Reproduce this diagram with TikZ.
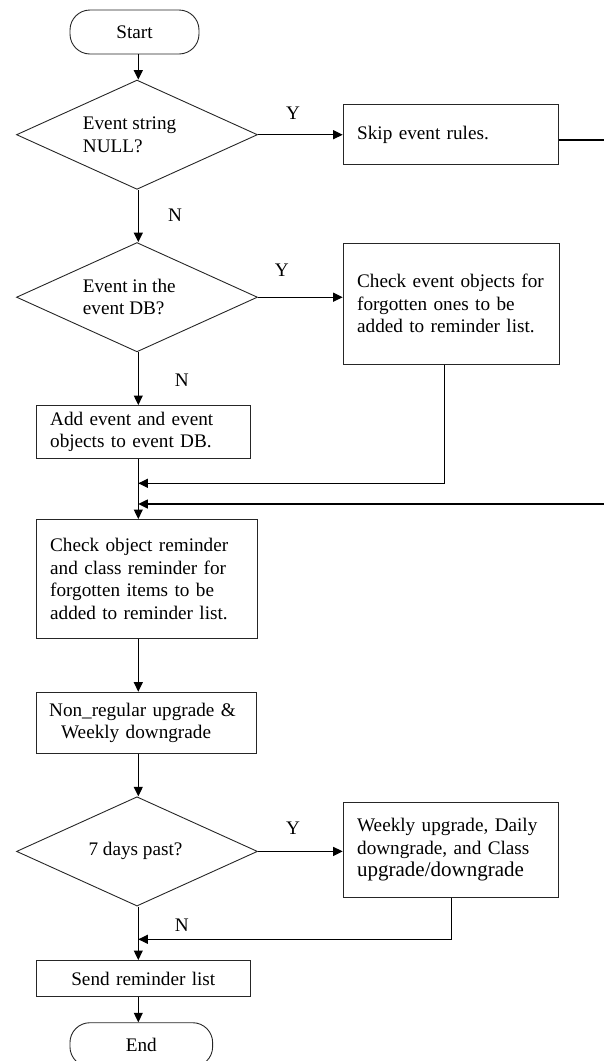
\documentclass[tikz,border=0pt]{standalone}
\usepackage{fontspec}
\setmainfont{Liberation Serif}
\usetikzlibrary{arrows.meta,shapes.geometric}
\begin{document}
\begin{tikzpicture}[x=1pt,y=-1pt,
  font=\fontsize{19.2}{22.5}\selectfont,
  box/.style={draw=black!85,line width=0.9pt,rectangle,inner xsep=14pt,inner ysep=0pt,align=left,anchor=north west},
  term/.style={draw=black!85,line width=0.9pt,rectangle,rounded corners=20pt,inner sep=0pt,minimum height=44pt},
  dia/.style={draw=black!85,line width=0.9pt,diamond,inner sep=0pt,minimum width=241pt,minimum height=109.3pt},
  txt/.style={inner sep=0pt,align=left},
  lab/.style={inner sep=0pt},
  arr/.style={line width=1.1pt,-{Triangle[length=9.5pt,width=9pt]}},
  ln/.style={line width=1.1pt}
]
\useasboundingbox (0,0) rectangle (604,1061);
\coordinate (col) at (138.3,0);

% nodes
\node[term,minimum width=129pt] (start) at (134.5,32) {Start};

\node[dia] (d1) at (137,134.7) {};
\node[txt,anchor=west] (d1t) at (82.7,135) {Event string\\NULL?};
\node[lab] (y1) at (293,113) {Y};
\node[lab] (n1) at (175,215) {N};
\node[box,text width=187pt,minimum height=60pt] (skip) at (342.7,104) {Skip event rules.};

\node[dia] (d2) at (137,297.2) {};
\node[txt,anchor=west] (d2t) at (82.7,297) {Event in the\\event DB?};
\node[lab] (y2) at (281.7,270) {Y};
\node[lab] (n2) at (181.7,380) {N};
\node[box,text width=188pt,minimum height=121.3pt] (ce) at (342.7,242.7) {Check event objects for\\forgotten ones to be\\added to reminder list.};

\node[box,text width=186.3pt,minimum height=53.3pt] (add) at (35.7,405) {Add event and event\\objects to event DB.};

\node[box,text width=193pt,minimum height=119pt] (chk) at (35.7,519) {Check object reminder\\and class reminder for\\forgotten items to be\\added to reminder list.\\[-6pt]};

\node[box,inner xsep=12pt,text width=196.3pt,minimum height=61.6pt] (nr) at (35.7,691.7) {\hspace*{1pt}Non\_regular upgrade \&\\\hspace*{13pt}Weekly downgrade};

\node[dia] (d3) at (137,851.4) {};
\node[txt] (d3t) at (135.5,851) {7 days past?};
\node[lab] (y3) at (293,828) {Y};
\node[lab] (n3) at (181.7,925) {N};
\node[box,text width=187pt,minimum height=95.6pt] (wk) at (342.7,801.7) {Weekly upgrade, Daily\\downgrade, and Class\\{\fontsize{21}{23}\selectfont upgrade/downgrade}\\[-20pt]};

\node[box,align=center,text width=186.3pt,minimum height=36pt] (send) at (35.7,960) {Send reminder list};

\node[term,minimum width=142.7pt] (end) at (141.3,1044.7) {End};

% helper coordinates
\coordinate (off1) at (604,140);
\coordinate (off2) at (604,504);
\coordinate (j1) at (138.3,483.3);
\coordinate (j2) at (138.3,504);
\coordinate (j3) at (138.3,939.3);

% connectors
\draw[arr] (start.south -| col) -- (d1.north -| col);
\draw[arr] (d1.east) -- (d1.east -| skip.west);
\draw[ln] (skip.east |- off1) -- (off1);
\draw[arr] (d1.south -| col) -- (d2.north -| col);
\draw[arr] (d2.east) -- (d2.east -| ce.west);
\draw[arr] (d2.south -| col) -- (add.north -| col);
\draw[arr] ([xshift=-7pt]ce.south) |- (j1);
\draw[arr] (off2) -- (j2);
\draw[arr] (add.south -| col) -- (chk.north -| col);
\draw[arr] (chk.south -| col) -- (nr.north -| col);
\draw[arr] (nr.south -| col) -- (d3.north -| col);
\draw[arr] (d3.east) -- (d3.east -| wk.west);
\draw[arr] ([xshift=1pt]wk.south) |- (j3);
\draw[arr] (d3.south -| col) -- (send.north -| col);
\draw[arr] (send.south -| col) -- (end.north -| col);
\end{tikzpicture}
\end{document}
